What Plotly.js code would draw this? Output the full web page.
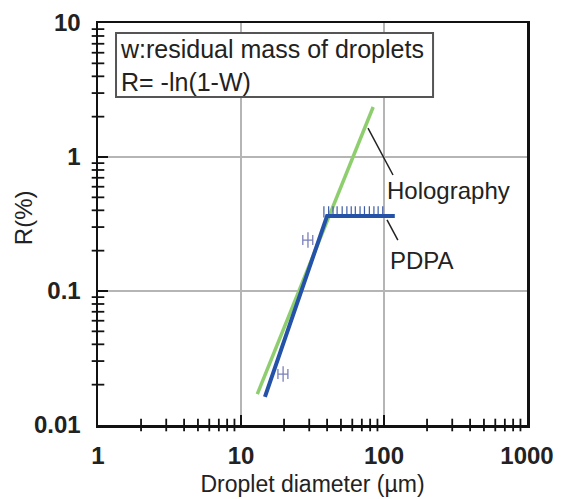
<!DOCTYPE html>
<html>
<head>
<meta charset="utf-8">
<script src="https://cdn.plot.ly/plotly-3.0.1.min.js"></script>
<style>html,body{margin:0;padding:0;background:#fff;}#chart{width:566px;height:499px;}</style>
</head>
<body>
<div id="chart"></div>
<script>
// Holography fit line
const holoX = [13, 84];
const holoY = [0.017, 2.36];
// PDPA fit line
const pdpaX = [14.7, 40, 119];
const pdpaY = [0.0162, 0.363, 0.363];
// PDPA sample ticks along plateau
const plateauX = [38, 41, 44, 47, 51, 55, 59, 63, 68, 73, 79, 85, 91, 98];
const plateauY = [0.39, 0.39, 0.39, 0.39, 0.39, 0.39, 0.39, 0.39, 0.39, 0.39, 0.39, 0.39, 0.39, 0.39];
// "H" points on rising part
const hX = [19.7, 29.4];
const hY = [0.024, 0.24];

// axis ranges (log10 exponents)
const xRange = [0, 3];
const yRange = [-2, 1];
// minor tick positions
const xMinorVals = [2,3,4,5,6,7,8,9, 20,30,40,50,60,70,80,90, 200,300,400,500,600,700,800,900];
const yMinorVals = [0.02,0.03,0.04,0.05,0.06,0.07,0.08,0.09, 0.2,0.3,0.4,0.5,0.6,0.7,0.8,0.9, 2,3,4,5,6,7,8,9];

const FONT = 'Liberation Sans, Arial, Helvetica, sans-serif';
const xMin = Math.pow(10, xRange[0]);
const yMin = Math.pow(10, yRange[0]);

const traces = [
  {x: holoX, y: holoY, mode: 'lines', line: {color: '#8fce6e', width: 3.5}, hoverinfo: 'skip'},
  {x: plateauX, y: plateauY, mode: 'markers', marker: {symbol: 'line-ns', size: 8, line: {color: '#3c5aa8', width: 1.2}}, hoverinfo: 'skip'},
  {x: hX, y: hY, mode: 'markers', marker: {symbol: 'line-ns', size: 11, line: {color: '#7a80b8', width: 1.3}},
   error_x: {type: 'percent', value: 8, width: 5, color: '#7a80b8', thickness: 1.3}, hoverinfo: 'skip'},
  {x: pdpaX, y: pdpaY, mode: 'lines', line: {color: '#2452a8', width: 4}, hoverinfo: 'skip'},
  // minor ticks on the bottom axis
  {x: xMinorVals, y: xMinorVals.map(() => yMin), mode: 'markers', cliponaxis: false,
   marker: {symbol: 'line-ns', size: 9, line: {color: '#111', width: 1.8}}, hoverinfo: 'skip'},
  // minor ticks on the left axis
  {x: yMinorVals.map(() => xMin), y: yMinorVals, mode: 'markers', cliponaxis: false,
   marker: {symbol: 'line-ew', size: 9, line: {color: '#111', width: 1.8}}, hoverinfo: 'skip'}
];

const layout = {
  width: 566, height: 499,
  margin: {l: 98, r: 39, t: 23, b: 74},
  paper_bgcolor: '#fff', plot_bgcolor: '#fff',
  showlegend: false,
  font: {family: FONT, color: '#222', size: 18},
  xaxis: {
    type: 'log', range: xRange,
    tickmode: 'linear', tick0: 0, dtick: 1,
    tickfont: {family: FONT, size: 24, weight: 'bold', color: '#222'},
    ticks: 'inside', ticklen: 10, tickwidth: 2.2, tickcolor: '#111',
    ticklabelstandoff: 8,
    showgrid: true, gridcolor: '#b5b5b5', gridwidth: 1.5,
    showline: true, linecolor: '#111', linewidth: 2.5, mirror: true,
    zeroline: false,
    title: {text: 'Droplet diameter (µm)', font: {family: FONT, size: 23, color: '#222'}, standoff: 8}
  },
  yaxis: {
    type: 'log', range: yRange,
    tickmode: 'linear', tick0: 0, dtick: 1,
    tickfont: {family: FONT, size: 24, weight: 'bold', color: '#222'},
    ticks: 'inside', ticklen: 10, tickwidth: 2.2, tickcolor: '#111',
    ticklabelstandoff: 10,
    showgrid: true, gridcolor: '#b5b5b5', gridwidth: 1.5,
    showline: true, linecolor: '#111', linewidth: 2.5, mirror: true,
    zeroline: false
  },
  shapes: [
    {type: 'rect', xref: 'paper', yref: 'paper', x0: 0.042, x1: 0.781, y0: 0.816, y1: 0.975,
     line: {color: '#555', width: 2}, fillcolor: 'rgba(255,255,255,1)', layer: 'above'},
    {type: 'line', xref: 'x', yref: 'y', x0: 77.3, y0: 1.64, x1: 115.6, y1: 0.734,
     line: {color: '#222', width: 1.5}},
    {type: 'line', xref: 'x', yref: 'y', x0: 105, y0: 0.339, x1: 125, y1: 0.24,
     line: {color: '#222', width: 1.5}}
  ],
  annotations: [
    {xref: 'paper', yref: 'paper', x: 0.046, y: 0.975, xanchor: 'left', yanchor: 'top', align: 'left', showarrow: false,
     text: 'w:residual mass of droplets<br>R= -ln(1-W)', font: {family: FONT, size: 25, color: '#222'}},
    {xref: 'x', yref: 'y', x: Math.log10(101.7), y: Math.log10(0.567), xanchor: 'left', showarrow: false,
     text: 'Holography', font: {family: FONT, size: 24, color: '#222'}},
    {xref: 'x', yref: 'y', x: Math.log10(106.6), y: Math.log10(0.170), xanchor: 'left', showarrow: false,
     text: 'PDPA', font: {family: FONT, size: 24, color: '#222'}},
    {xref: 'paper', yref: 'paper', x: -0.172, y: 0.515, xanchor: 'center', yanchor: 'middle', textangle: -90, showarrow: false,
     text: 'R(%)', font: {family: FONT, size: 24, color: '#222'}}
  ]
};

Plotly.newPlot('chart', traces, layout, {staticPlot: true, displayModeBar: false});
</script>
</body>
</html>
